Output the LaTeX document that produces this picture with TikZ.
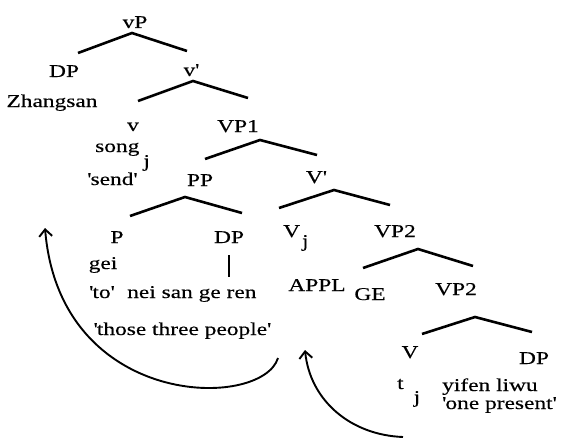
\documentclass[tikz,border=0pt]{standalone}
\usepackage{fontspec}
\setmainfont{Liberation Serif}[FakeStretch=1.3,FakeBold=0.3]
\usetikzlibrary{arrows.meta}
\newcommand{\q}{\textquotesingle}
\begin{document}
\begin{tikzpicture}[x=1pt,y=-1pt,
  lbl/.style={inner sep=0pt,anchor=base,font=\fontsize{18}{20}\selectfont},
  branch/.style={line width=2.6pt},
  move/.style={line width=1.9pt,-{Straight Barb[length=7pt,width=13pt]}}]
\useasboundingbox (0,0) rectangle (588,441);

\node[lbl] (vP) at (135,28) {vP};
\node[lbl] (DPa) at (64,77) {DP};
\node[lbl] (zhangsan) at (52,107) {Zhangsan};
\node[lbl] (vbar) at (191,76) {v\q};
\node[lbl] (v) at (133,131) {v};
\node[lbl] (VPa) at (238,132) {VP1};
\node[lbl,anchor=base west] (song) at (95,152) {song\hspace{4pt}\raisebox{-15pt}{j}};
\node[lbl] (send) at (112,185) {\q send\q};
\node[lbl] (PP) at (200,186) {PP};
\node[lbl] (Vbar) at (316,183) {V\q};
\node[lbl] (P) at (117,243) {P};
\node[lbl] (DPb) at (229,243) {DP};
\node[lbl,anchor=base west] (Vj) at (283,237) {V\hspace{2pt}\raisebox{-10pt}{j}};
\node[lbl] (gei) at (103,269) {gei};
\node[lbl,anchor=base west] (to) at (89,298) {\q to\q};
\node[lbl,anchor=base west] (neisan) at (127,298) {nei san ge ren};
\node[lbl] (APPL) at (317,291) {APPL};
\node[lbl] (people) at (182,335) {\q those three people\q};
\node[lbl] (VPb) at (395,237) {VP2};
\node[lbl] (GE) at (370,300) {GE};
\node[lbl] (VPc) at (456,295) {VP2};
\node[lbl] (V) at (410,358) {V};
\node[lbl] (DPc) at (534,364) {DP};
\node[lbl,anchor=base west] (tj) at (397,389) {t\hspace{10pt}\raisebox{-14pt}{j}};
\node[lbl,anchor=base west] (yifen) at (442,391) {yifen liwu};
\node[lbl,anchor=base west] (present) at (442,409) {\q one present\q};

\coordinate (vP-l) at (78,53);
\coordinate (vP-t) at (132,33);
\coordinate (vP-r) at (187,51);
\draw[branch] (vP-l) -- (vP-t) -- (vP-r);

\coordinate (vbar-l) at (138,101);
\coordinate (vbar-t) at (193,81);
\coordinate (vbar-r) at (248,98);
\draw[branch] (vbar-l) -- (vbar-t) -- (vbar-r);

\coordinate (VPa-l) at (205,159);
\coordinate (VPa-t) at (260,140);
\coordinate (VPa-r) at (317,155);
\draw[branch] (VPa-l) -- (VPa-t) -- (VPa-r);

\coordinate (PP-l) at (130,216);
\coordinate (PP-t) at (185,197);
\coordinate (PP-r) at (242,213);
\draw[branch] (PP-l) -- (PP-t) -- (PP-r);

\coordinate (Vbar-l) at (279,208);
\coordinate (Vbar-t) at (334,190);
\coordinate (Vbar-r) at (390,205);
\draw[branch] (Vbar-l) -- (Vbar-t) -- (Vbar-r);

\coordinate (VPb-l) at (363,268);
\coordinate (VPb-t) at (418,249);
\coordinate (VPb-r) at (473,266);
\draw[branch] (VPb-l) -- (VPb-t) -- (VPb-r);

\coordinate (VPc-l) at (422,334);
\coordinate (VPc-t) at (475,317);
\coordinate (VPc-r) at (532,332);
\draw[branch] (VPc-l) -- (VPc-t) -- (VPc-r);

\draw[line width=1.8pt,shorten <=12pt,shorten >=9pt] (DPb.south) -- (DPb.south |- neisan.north);

\coordinate (from1) at (278,358);
\coordinate (to1) at (45,228);
\draw[move] (from1) .. controls (262,410) and (60,410) .. (to1);

\coordinate (from2) at (403,437);
\coordinate (to2) at (305,350);
\draw[move] (from2) .. controls (350,435) and (310,400) .. (to2);
\end{tikzpicture}
\end{document}
